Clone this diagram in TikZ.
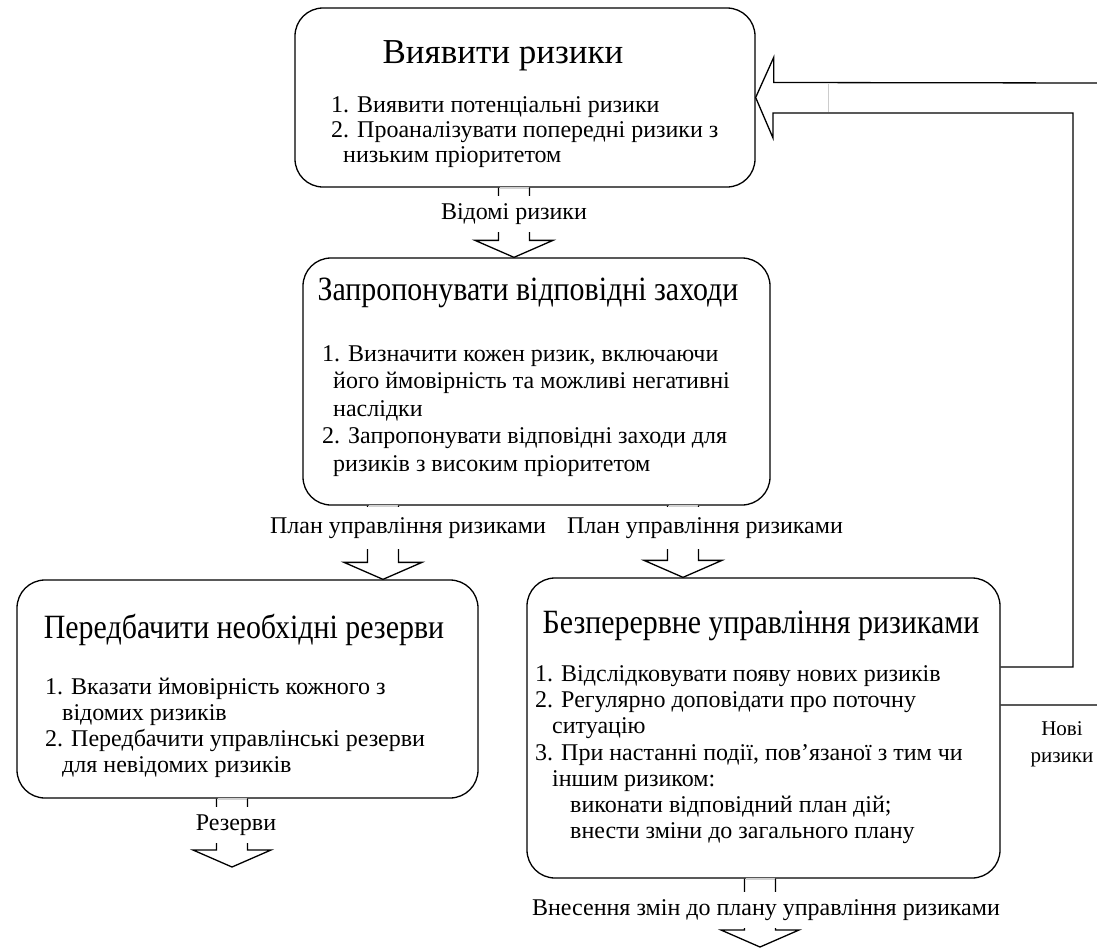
\documentclass[tikz,border=0pt]{standalone}
\usepackage{fontspec}
\setmainfont{Liberation Serif}
\newfontfamily\narrowserif[FakeStretch=0.88]{Liberation Serif}
\usetikzlibrary{calc}
\tikzset{
  box/.style={draw, line width=1.3pt, rounded corners=28pt},
  ttl/.style={anchor=base, inner sep=0pt, font=\fontsize{35}{40}\selectfont},
  nttl/.style={anchor=base, inner sep=0pt, font=\narrowserif\fontsize{34}{40}\selectfont},
  body/.style={anchor=north west, inner sep=0pt, align=left, font=\fontsize{24}{26}\selectfont},
  lbl/.style={fill=white, inner xsep=2pt, inner ysep=0pt, minimum height=36pt, font=\fontsize{24}{27}\selectfont},
  hollow/.style={draw, line width=1.3pt, line join=miter},
}
% hollow block arrow: x, from anchor, to anchor
\newcommand{\downflow}[3]{
  \draw[gray!35, line width=1.8pt] (#1-14.5,0 |- #2) -- (#1+14.5,0 |- #2);
  \draw[hollow] (#1-15.5,0 |- #2) -- ($(#1-15.5,0 |- #3)+(0,-17)$) -- ++(-23.5,0)
    -- (#1,0 |- #3) -- ++(39,-17) -- ++(-23.5,0) -- (#1+15.5,0 |- #2);
}
\begin{document}
\begin{tikzpicture}[x=1pt,y=-1pt]
\clip (0,0) rectangle (1097,948);
\fill[white] (0,0) rectangle (1097,948);

% boxes
\node (risk) [box, minimum width=460, minimum height=179] at (525,97.5) {};
\node (plan) [box, minimum width=467, minimum height=247] at (536.5,381.5) {};
\node (reserve) [box, minimum width=461, minimum height=218] at (247.5,689) {};
\node (renew) [box, minimum width=473, minimum height=300] at (763.5,728) {};
\coordinate (resEnd) at (232,867);
\coordinate (chgEnd) at (760,947);

% texts
\node (riskT) [ttl] at (503,63) {Виявити ризики};
\node (riskL) [body, font=\fontsize{24}{25}\selectfont] at (331,96) {1. Виявити потенціальні ризики\\
2. Проаналізувати попередні ризики з\\
\hspace*{12pt}низьким пріоритетом};

\node (planT) [nttl] at (528,300) {Запропонувати відповідні заходи};
\node (planL) [body, font=\fontsize{24}{27.5}\selectfont] at (322,345) {1. Визначити кожен ризик, включаючи\\
\hspace*{11pt}його ймовірність та можливі негативні\\
\hspace*{11pt}наслідки\\
2. Запропонувати відповідні заходи для\\
\hspace*{11pt}ризиків з високим пріоритетом};

\node (reserveT) [nttl] at (244,638) {Передбачити необхідні резерви};
\node (reserveL) [body] at (45,678) {1. Вказати ймовірність кожного з\\
\hspace*{17pt}відомих ризиків\\
2. Передбачити управлінські резерви\\
\hspace*{17pt}для невідомих ризиків};

\node (renewT) [nttl] at (761,633) {Безперервне управління ризиками};
\node (renewL) [body, font=\fontsize{24}{26.3}\selectfont] at (535,665) {1. Відслідковувати появу нових ризиків\\
2. Регулярно доповідати про поточну\\
\hspace*{17pt}ситуацію\\
3. При настанні події, пов’язаної з тим чи\\
\hspace*{17pt}іншим ризиком:\\
\hspace*{35pt}виконати відповідний план дій;\\
\hspace*{35pt}внести зміни до загального плану};

% arrows
\downflow{514}{risk.south}{plan.north}
\downflow{383}{plan.south}{reserve.north}
\downflow{683}{plan.south}{renew.north}
\downflow{232}{reserve.south}{resEnd}
\downflow{760}{renew.south}{chgEnd}

\node (knownL) [lbl] at (514,214) {Відомі ризики};
\node (planL1) [lbl, minimum height=42pt] at (408,528) {План управління ризиками};
\node (planL2) [lbl, minimum height=42pt] at (705,528) {План управління ризиками};
\node (reserveL1) [lbl] at (236,825) {Резерви};
\node (changeL) [lbl] at (766,910) {Внесення змін до плану управління ризиками};

% feedback
\draw[hollow] (renew.east |- 0,667) -| (1073,113) -- (773,113) -- ++(0,25)
  -- (risk.east) -- ++(18,-40) -- ++(0,25) -- (1104,83) |- (renew.east |- 0,705);
\draw[gray!40, line width=0.6pt] (828,84) -- (828,112);
\node (newL) [lbl, fill=none, align=center, font=\fontsize{21}{27}\selectfont] at (1062,744) {Нові\\ризики};

\end{tikzpicture}
\end{document}
